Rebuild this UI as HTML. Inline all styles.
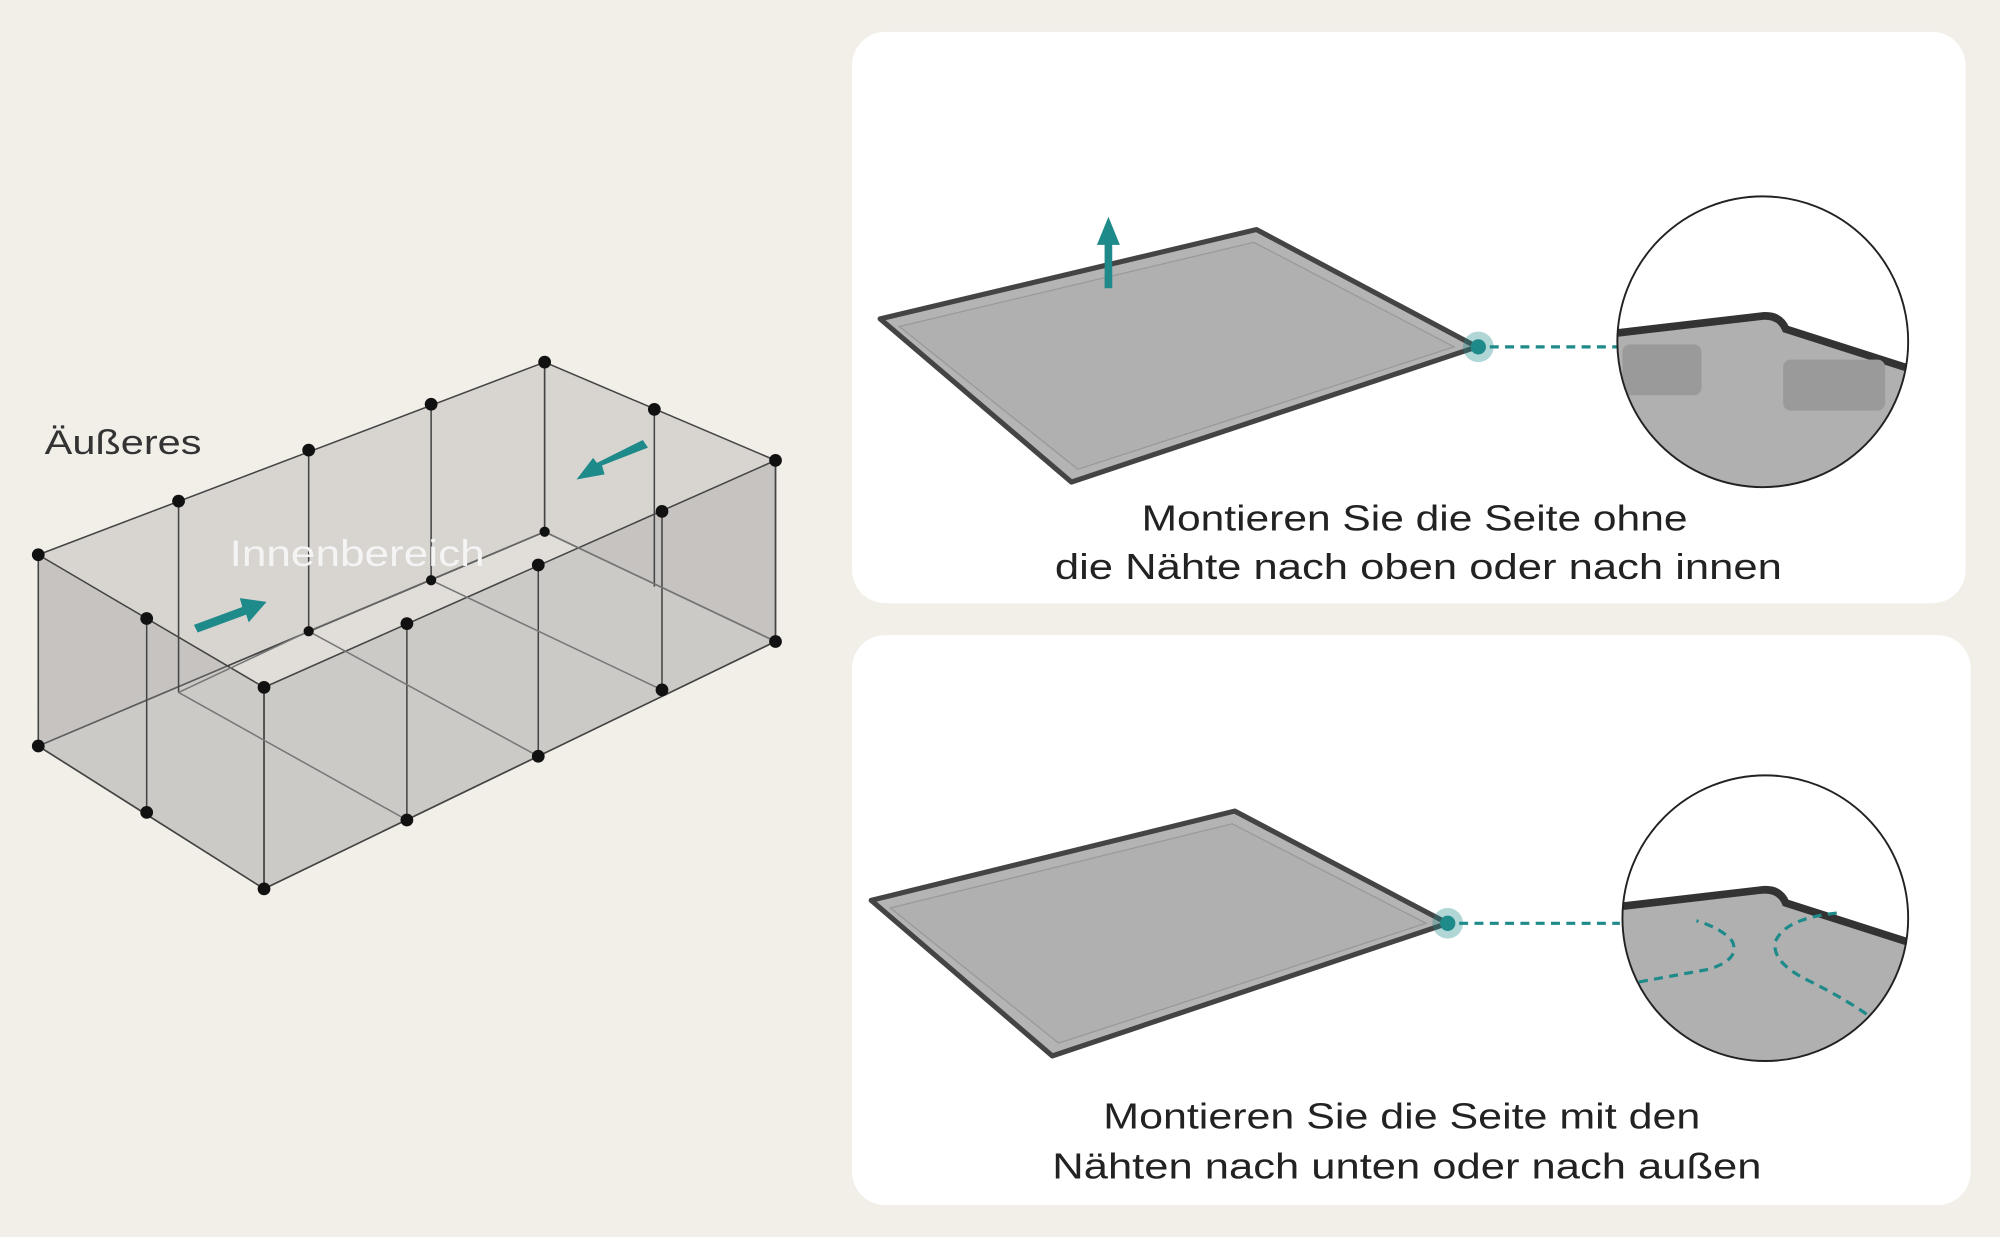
<!DOCTYPE html>
<html><head><meta charset="utf-8"><style>
html,body{margin:0;padding:0;background:#f2eee8;}
svg{display:block}
text{font-family:"Liberation Sans",sans-serif;}
</style></head><body>
<svg width="2000" height="1237" viewBox="0 0 1568 970" preserveAspectRatio="none">
<rect width="1568" height="970" fill="#f2eee8"/>
<rect x="668" y="25" width="873" height="448" rx="26" fill="#ffffff"/>
<rect x="668" y="498" width="877" height="447" rx="26" fill="#ffffff"/>

<!-- cage -->
<g stroke="#444" stroke-width="1.2" fill="#9a9a9a" fill-opacity="0.3">
 <polygon points="30,435 427,284 427,417 30,585"/>
 <polygon points="427,284 608,361 608,503 427,417"/>
 <polygon points="30,585 427,417 608,503 207,697" fill="#b0b0b0" fill-opacity="0.25"/>
 <polygon points="30,435 207,539 207,697 30,585"/>
 <polygon points="207,539 608,361 608,503 207,697"/>
</g>
<g stroke="#444" stroke-width="1.2" fill="none">
 <line x1="140" y1="393" x2="140" y2="543"/>
 <line x1="242" y1="353" x2="242" y2="495"/>
 <line x1="338" y1="317" x2="338" y2="455"/>
 <line x1="513" y1="321" x2="513" y2="460"/>
 <line x1="115" y1="485" x2="115" y2="637"/>
 <line x1="319" y1="489" x2="319" y2="643"/>
 <line x1="422" y1="443" x2="422" y2="593"/>
 <line x1="519" y1="401" x2="519" y2="541"/>
 <line x1="242" y1="495" x2="427" y2="417" stroke="#666"/>
 <line x1="140" y1="543" x2="242" y2="495" stroke="#777"/>
 <line x1="140" y1="543" x2="319" y2="643" stroke="#777"/>
 <line x1="242" y1="495" x2="422" y2="593" stroke="#777"/>
 <line x1="338" y1="455" x2="519" y2="541" stroke="#777"/>
 <line x1="427" y1="417" x2="608" y2="503" stroke="#777"/>
</g>
<g fill="#111">
 <circle cx="30" cy="435" r="5"/><circle cx="140" cy="393" r="5"/><circle cx="242" cy="353" r="5"/>
 <circle cx="338" cy="317" r="5"/><circle cx="427" cy="284" r="5"/><circle cx="513" cy="321" r="5"/>
 <circle cx="608" cy="361" r="5"/><circle cx="115" cy="485" r="5"/><circle cx="207" cy="539" r="5"/>
 <circle cx="319" cy="489" r="5"/><circle cx="422" cy="443" r="5"/><circle cx="519" cy="401" r="5"/>
 <circle cx="30" cy="585" r="5"/><circle cx="115" cy="637" r="5"/><circle cx="207" cy="697" r="5"/>
 <circle cx="319" cy="643" r="5"/><circle cx="422" cy="593" r="5"/><circle cx="519" cy="541" r="5"/>
 <circle cx="608" cy="503" r="5"/><circle cx="242" cy="495" r="4"/><circle cx="338" cy="455" r="4"/>
 <circle cx="427" cy="417" r="4"/>
</g>
<g fill="#1f8a8a">
 <polygon points="152,490 190,476 188,469 209,472 195,488 193,482 155,496"/>
 <polygon points="508,351 472,365 474,372 452,376 465,359 468,363 504,345"/>
</g>
<text x="35" y="356" font-size="27" fill="#333" textLength="123" lengthAdjust="spacingAndGlyphs">Äußeres</text>
<text x="180" y="444" font-size="29" fill="#f4f4f4" textLength="200" lengthAdjust="spacingAndGlyphs">Innenbereich</text>

<!-- top board -->
<polygon points="690,250 985,180 1158,272 840,378" fill="#b4b4b4" stroke="#444" stroke-width="4" stroke-linejoin="round"/>
<polygon points="705,256 983,190 1140,272 845,368" fill="#b0b0b0" stroke="#999" stroke-width="1"/>
<rect x="866" y="190" width="6" height="36" fill="#1f8a8a"/>
<polygon points="860,192 869,170 878,192" fill="#1f8a8a"/>
<circle cx="1159" cy="272" r="12" fill="#1f8a8a" fill-opacity="0.35"/>
<circle cx="1159" cy="272" r="6" fill="#1f8a8a"/>
<line x1="1168" y1="272" x2="1270" y2="272" stroke="#1f8a8a" stroke-width="2.5" stroke-dasharray="7,5"/>
<clipPath id="c1"><circle cx="1382" cy="268" r="114"/></clipPath>
<g clip-path="url(#c1)">
 <rect x="1260" y="150" width="250" height="240" fill="#fff"/>
 <path d="M1260,262 L1380,248 Q1395,246 1400,258 L1500,290 L1500,400 L1260,400Z" fill="#b0b0b0"/>
 <path d="M1260,262 L1380,248 Q1395,246 1400,258 L1500,290" fill="none" stroke="#333" stroke-width="6"/>
 <rect x="1272" y="270" width="62" height="40" rx="6" fill="#9a9a9a"/>
 <rect x="1398" y="282" width="80" height="40" rx="6" fill="#9a9a9a"/>
</g>
<circle cx="1382" cy="268" r="114" fill="none" stroke="#222" stroke-width="1.5"/>
<text x="895" y="416" font-size="28" fill="#222" textLength="428" lengthAdjust="spacingAndGlyphs">Montieren Sie die Seite ohne</text>
<text x="827" y="454" font-size="28" fill="#222" textLength="570" lengthAdjust="spacingAndGlyphs">die Nähte nach oben oder nach innen</text>

<!-- bottom board -->
<polygon points="683,706 968,636 1135,724 825,828" fill="#b4b4b4" stroke="#444" stroke-width="4" stroke-linejoin="round"/>
<polygon points="698,712 966,646 1118,724 830,818" fill="#b0b0b0" stroke="#999" stroke-width="1"/>
<circle cx="1135" cy="724" r="12" fill="#1f8a8a" fill-opacity="0.35"/>
<circle cx="1135" cy="724" r="6" fill="#1f8a8a"/>
<line x1="1144" y1="724" x2="1270" y2="724" stroke="#1f8a8a" stroke-width="2.5" stroke-dasharray="7,5"/>
<clipPath id="c2"><circle cx="1384" cy="720" r="112"/></clipPath>
<g clip-path="url(#c2)">
 <rect x="1260" y="600" width="250" height="240" fill="#fff"/>
 <path d="M1260,712 L1380,698 Q1395,696 1400,708 L1500,740 L1500,850 L1260,850Z" fill="#b0b0b0"/>
 <path d="M1260,712 L1380,698 Q1395,696 1400,708 L1500,740" fill="none" stroke="#333" stroke-width="6"/>
 <path d="M1285,770 L1340,760 Q1365,752 1358,738 Q1350,728 1330,722" fill="none" stroke="#1f8a8a" stroke-width="2.5" stroke-dasharray="7,5"/>
 <path d="M1440,716 Q1400,720 1392,738 Q1388,755 1420,770 Q1450,785 1470,800" fill="none" stroke="#1f8a8a" stroke-width="2.5" stroke-dasharray="7,5"/>
</g>
<circle cx="1384" cy="720" r="112" fill="none" stroke="#222" stroke-width="1.5"/>
<text x="865" y="885" font-size="28" fill="#222" textLength="468" lengthAdjust="spacingAndGlyphs">Montieren Sie die Seite mit den</text>
<text x="825" y="924" font-size="28" fill="#222" textLength="556" lengthAdjust="spacingAndGlyphs">Nähten nach unten oder nach außen</text>
</svg>
</body></html>
